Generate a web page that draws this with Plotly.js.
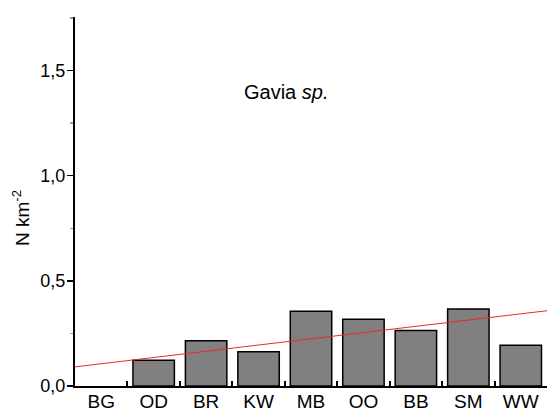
<!DOCTYPE html>
<html>
<head>
<meta charset="utf-8">
<script src="https://cdn.plot.ly/plotly-3.0.1.min.js"></script>
<style>html,body{margin:0;padding:0;background:#fff;}#chart{width:548px;height:414px;}</style>
</head>
<body>
<div id="chart"></div>
<script>
// Data
const categories = ["BG", "OD", "BR", "KW", "MB", "OO", "BB", "SM", "WW"];
const density = [0, 0.123, 0.215, 0.163, 0.356, 0.317, 0.264, 0.366, 0.194];
const trendX = [-0.5, 8.5];
const trendY = [0.091, 0.358];
const yTickVals = [0, 0.5, 1.0, 1.5];

const FONT = "Liberation Sans, Arial, sans-serif";

const bars = {
  type: "bar",
  x: categories,
  y: density,
  marker: {
    color: "#808080",
    line: { color: "#000", width: density.map(v => (v > 0 ? 1.5 : 0)) }
  },
  width: 0.79,
  hoverinfo: "skip",
  showlegend: false
};
const trend = {
  type: "scatter",
  mode: "lines",
  x: trendX,
  y: trendY,
  xaxis: "x2",
  line: { color: "rgb(235,40,40)", width: 1 },
  hoverinfo: "skip",
  showlegend: false
};

const layout = {
  width: 548,
  height: 414,
  margin: { l: 75, r: 1, t: 17, b: 28 },
  paper_bgcolor: "#fff",
  plot_bgcolor: "#fff",
  separators: ",.",
  font: { family: FONT, color: "#000" },
  xaxis: {
    type: "category",
    range: [-0.5, 8.5],
    showline: true, linecolor: "#000", linewidth: 2,
    showgrid: false, zeroline: false,
    ticks: "inside", tickson: "boundaries", ticklen: 5, tickwidth: 2, tickcolor: "#000",
    tickfont: { family: FONT, size: 19, color: "#000" },
    ticklabelstandoff: -3,
    fixedrange: true
  },
  xaxis2: {
    overlaying: "x",
    range: [-0.5, 8.5],
    visible: false,
    fixedrange: true
  },
  yaxis: {
    range: [0, 1.755],
    showline: true, linecolor: "#000", linewidth: 2,
    showgrid: false, zeroline: false,
    tickvals: yTickVals, tickformat: ".1f",
    ticks: "outside", ticklen: 6, tickwidth: 1.5, tickcolor: "#000",
    tickfont: { family: FONT, size: 18, color: "#000" },
    ticklabelstandoff: -2,
    minor: { tickvals: [0.25, 0.75, 1.25, 1.75], ticks: "outside", ticklen: 3, tickwidth: 1.5, tickcolor: "#999" },
    fixedrange: true
  },
  annotations: [
    {
      text: "Gavia <i>sp.</i>",
      xref: "paper", yref: "paper",
      x: 0.448, y: 0.797,
      xanchor: "center", yanchor: "middle",
      showarrow: false,
      font: { family: FONT, size: 20, color: "#000" }
    },
    {
      text: "N km<sup>-2</sup>",
      xref: "paper", yref: "paper",
      x: 0, y: 0.455, xshift: -54,
      xanchor: "center", yanchor: "middle",
      textangle: -90,
      showarrow: false,
      font: { family: FONT, size: 19, color: "#000" }
    }
  ]
};

Plotly.newPlot("chart", [bars, trend], layout, { displayModeBar: false, staticPlot: true });
</script>
</body>
</html>
